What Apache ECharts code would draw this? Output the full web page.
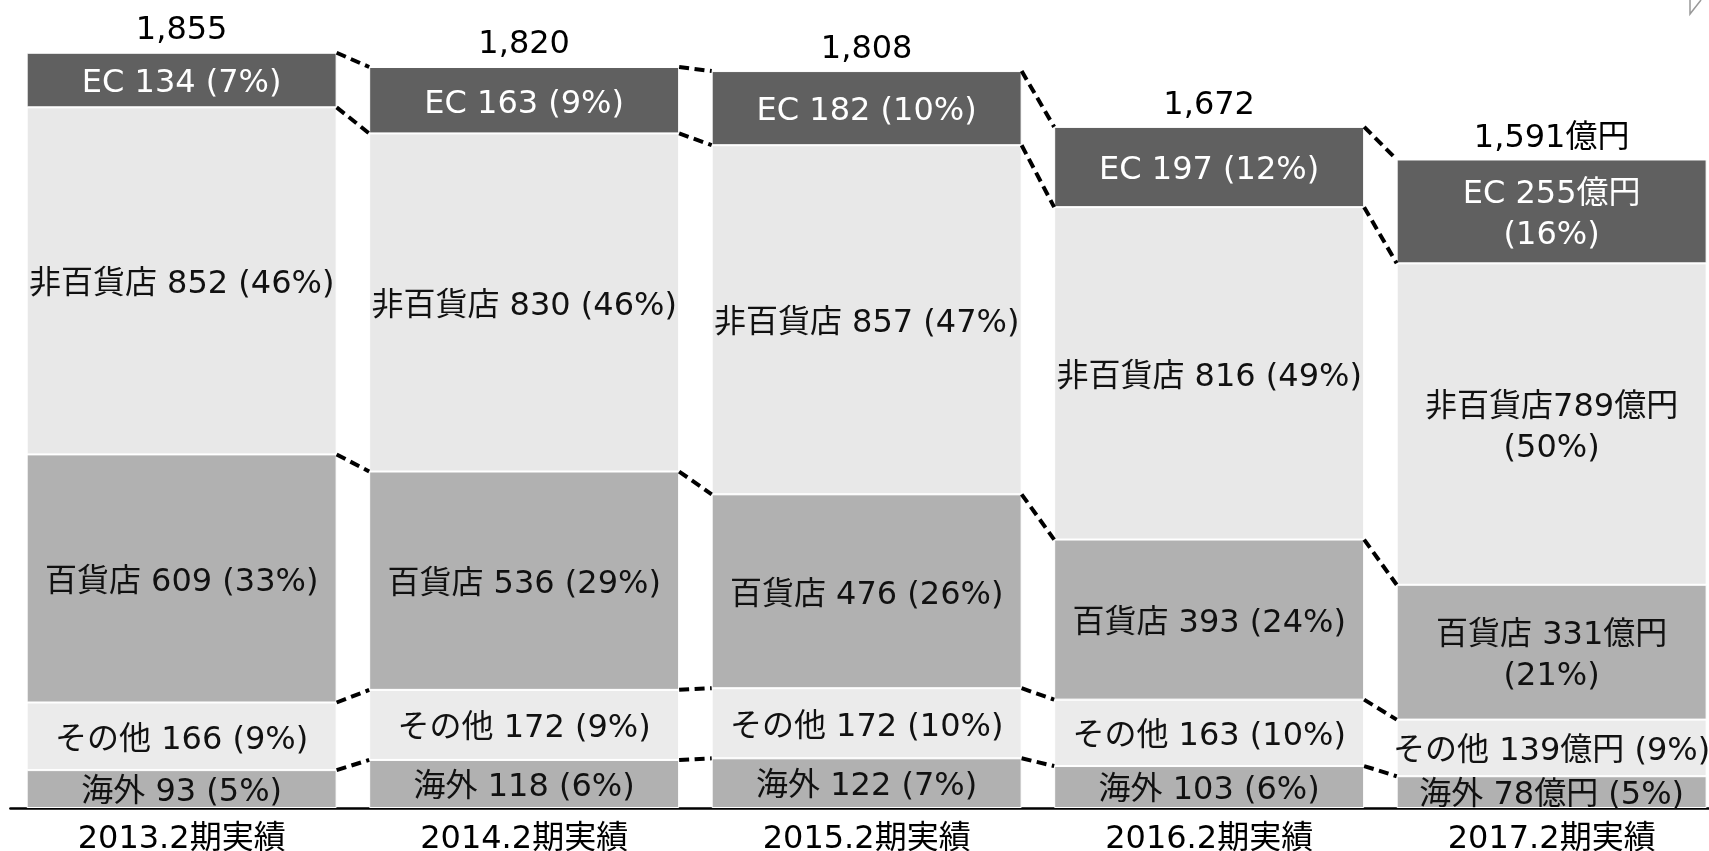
<!DOCTYPE html>
<html>
<head>
<meta charset="utf-8">
<script src="https://cdn.jsdelivr.net/npm/echarts@6/dist/echarts.min.js"></script>
<style>
html,body{margin:0;padding:0;background:#fff;}
#chart{width:1709px;height:851px;}
</style>
</head>
<body>
<div id="chart"></div>
<script>
const categories = ['2013.2期実績', '2014.2期実績', '2015.2期実績', '2016.2期実績', '2017.2期実績'];
const overseas = [93, 118, 122, 103, 78];
const others = [166, 172, 172, 163, 139];
const dept = [609, 536, 476, 393, 331];
const nonDept = [852, 830, 857, 816, 789];
const ec = [134, 163, 182, 197, 255];
const overseasPct = [5, 6, 7, 6, 5];
const othersPct = [9, 9, 10, 10, 9];
const deptPct = [33, 29, 26, 24, 21];
const nonDeptPct = [46, 46, 47, 49, 50];
const ecPct = [7, 9, 10, 12, 16];
const totals = [1855, 1820, 1808, 1672, 1591];
const totalLabels = ['1,855', '1,820', '1,808', '1,672', '1,591億円'];

const FONT = "'DejaVu Sans', 'Noto Sans CJK JP', sans-serif";
const GAP = 0.095;

function fmt(name, vals, pcts, lastFmt) {
  return function (p) {
    const i = p.dataIndex;
    if (i === vals.length - 1) return lastFmt(vals[i], pcts[i]);
    return name + ' ' + vals[i] + ' (' + pcts[i] + '%)';
  };
}

const stackDefs = [
  { name: '海外', data: overseas, color: '#b1b1b1', text: '#111',
    f: fmt('海外', overseas, overseasPct, (v, p) => '海外 ' + v + '億円 (' + p + '%)') },
  { name: 'その他', data: others, color: '#ebebeb', text: '#111',
    f: fmt('その他', others, othersPct, (v, p) => 'その他 ' + v + '億円 (' + p + '%)') },
  { name: '百貨店', data: dept, color: '#b1b1b1', text: '#111',
    f: fmt('百貨店', dept, deptPct, (v, p) => '百貨店 ' + v + '億円\n(' + p + '%)') },
  { name: '非百貨店', data: nonDept, color: '#e8e8e8', text: '#111',
    f: fmt('非百貨店', nonDept, nonDeptPct, (v, p) => '非百貨店' + v + '億円\n(' + p + '%)') },
  { name: 'EC', data: ec, color: '#606060', text: '#ffffff',
    f: fmt('EC', ec, ecPct, (v, p) => 'EC ' + v + '億円\n(' + p + '%)') }
];

// cumulative boundaries for connectors
const layers = [overseas, others, dept, nonDept, ec];
const cum = categories.map((c, i) => {
  let s = 0; const out = [];
  layers.forEach(l => { s += l[i]; out.push(s); });
  return out;
});
const connectors = [];
for (let i = 0; i < categories.length - 1; i++) {
  for (let k = 0; k < layers.length; k++) {
    connectors.push([i, cum[i][k], cum[i + 1][k]]);
  }
}

const series = stackDefs.map(d => ({
  name: d.name,
  type: 'bar',
  stack: 'total',
  barWidth: ((1 - GAP) * 100) + '%',
  data: d.data,
  itemStyle: { color: d.color, borderColor: '#ffffff', borderWidth: 1 },
  label: {
    show: true, position: 'inside', formatter: d.f, offset: [0, 4],
    color: d.text, fontSize: 32, lineHeight: 41, fontFamily: FONT
  },
  emphasis: { disabled: true },
  silent: true
}));

series.push({
  type: 'line',
  data: totals,
  symbol: 'circle',
  symbolSize: 1,
  showSymbol: true,
  itemStyle: { color: 'rgba(0,0,0,0)' },
  lineStyle: { opacity: 0 },
  label: {
    show: true, position: 'top', distance: 5,
    formatter: p => totalLabels[p.dataIndex],
    color: '#000', fontSize: 32, fontFamily: FONT
  },
  silent: true,
  z: 5
});

series.push({
  type: 'custom',
  data: connectors,
  encode: { x: 0, y: [1, 2] },
  renderItem: function (params, api) {
    const i = api.value(0);
    const bw = api.size([1, 0])[0] * (1 - GAP);
    const p1 = api.coord([i, api.value(1)]);
    const p2 = api.coord([i + 1, api.value(2)]);
    return {
      type: 'line',
      shape: { x1: p1[0] + bw / 2, y1: p1[1], x2: p2[0] - bw / 2, y2: p2[1] },
      style: { stroke: '#000', lineWidth: 4, lineDash: [10, 5.5] }
    };
  },
  silent: true,
  z: 6
});

const chart = echarts.init(document.getElementById('chart'), null, { renderer: 'canvas' });
chart.setOption({
  animation: false,
  backgroundColor: '#ffffff',
  grid: { left: 10.4, top: 34, width: 1712.5, height: 774, containLabel: false, outerBoundsMode: 'none' },
  xAxis: {
    type: 'category',
    data: categories,
    axisLine: { show: true, lineStyle: { color: '#000', width: 2.5 } },
    axisTick: { show: false },
    axisLabel: { color: '#000', fontSize: 32, fontFamily: FONT, margin: 16 }
  },
  yAxis: { type: 'value', min: 0, max: 1900, show: false, splitLine: { show: false } },
  series: series,
  graphic: [{
    type: 'polyline',
    shape: { points: [[1690, 0], [1690, 14], [1701, 0]] },
    style: { stroke: '#999', lineWidth: 1.5, fill: null },
    silent: true
  }]
});
</script>
</body>
</html>
